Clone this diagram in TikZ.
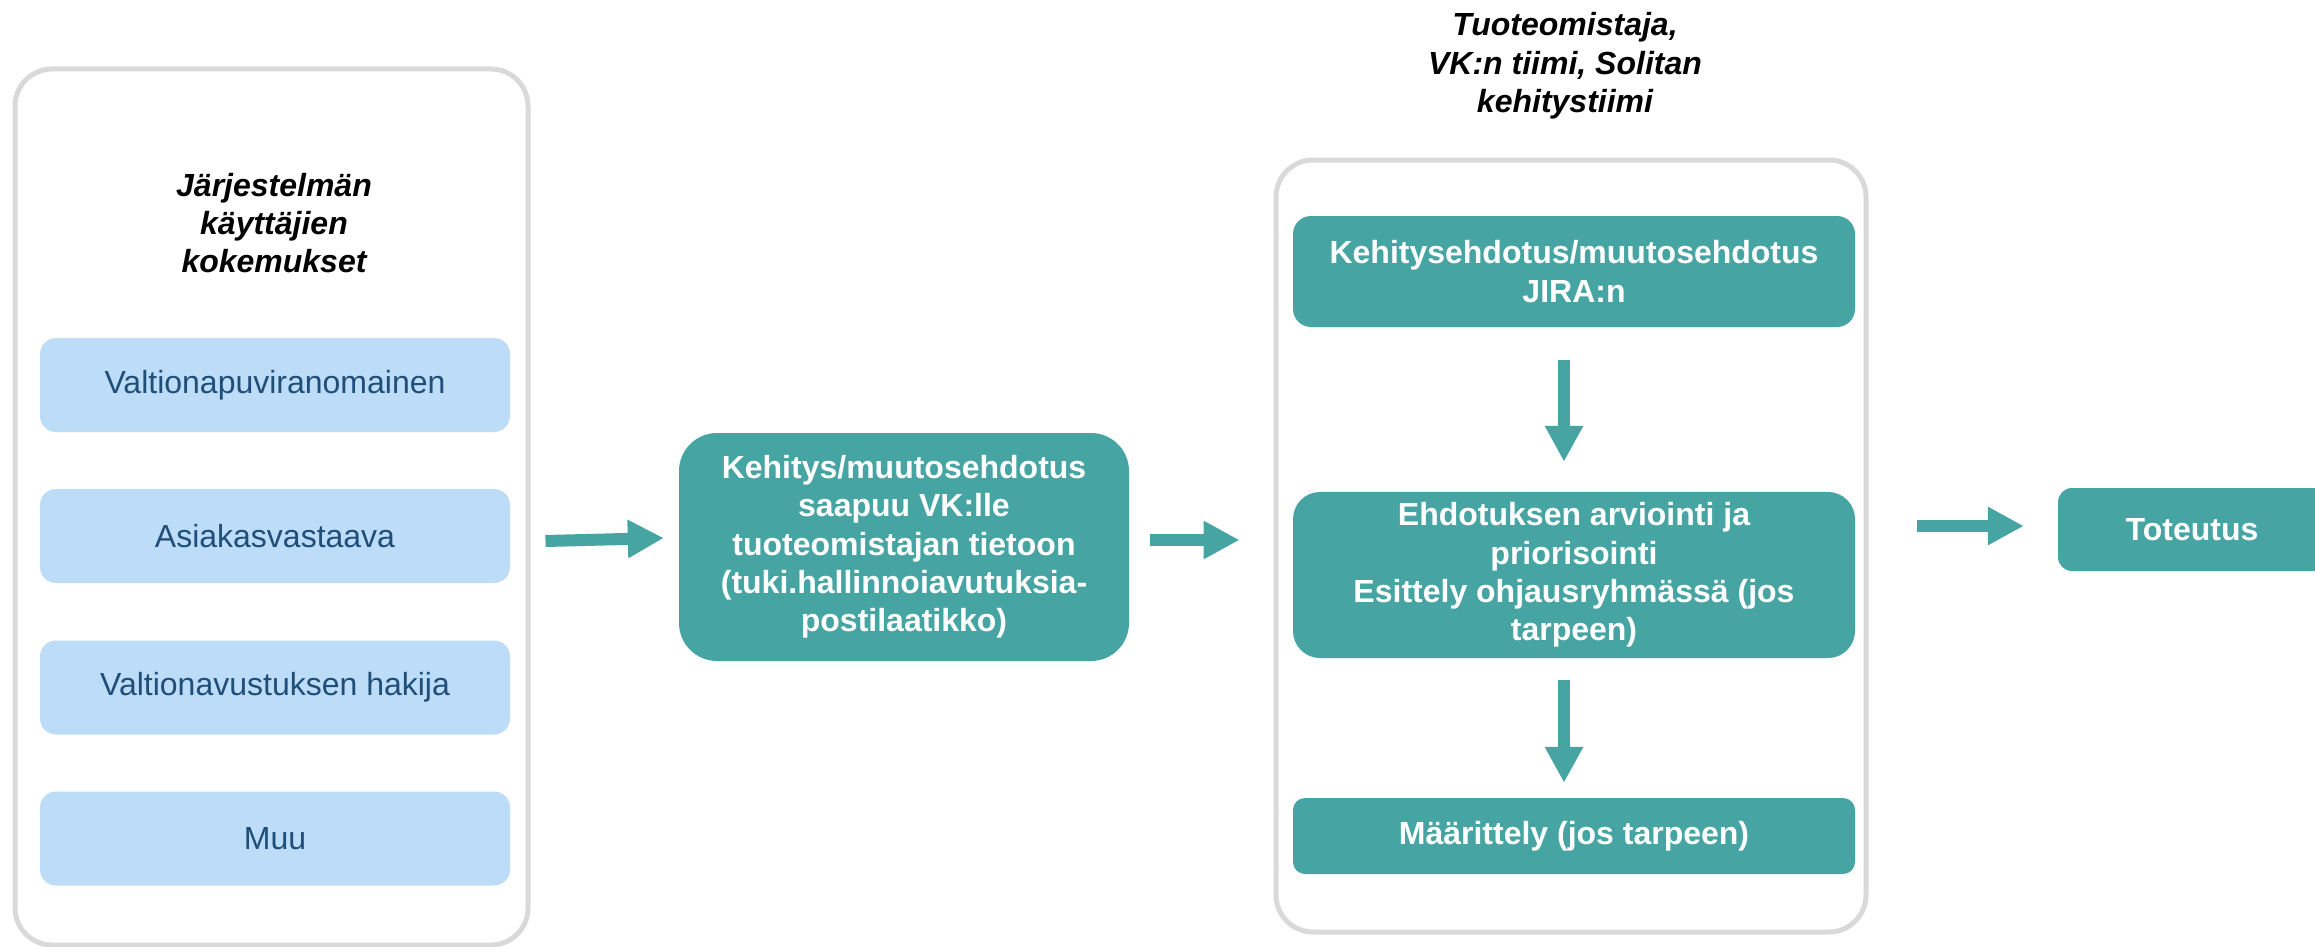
\documentclass[tikz,border=0pt]{standalone}
\usepackage{fontspec}
\setmainfont{Liberation Sans}
\usetikzlibrary{arrows.meta}

\definecolor{flowteal}{RGB}{70,164,163}
\definecolor{userblue}{RGB}{189,220,247}
\definecolor{userdark}{RGB}{31,78,121}
\definecolor{framegray}{RGB}{217,217,217}

\begin{document}
\fontsize{32}{38.3}\selectfont
\begin{tikzpicture}[x=1pt, y=-1pt,
    frame/.style={draw=framegray, line width=5pt, rounded corners=37pt},
    user/.style={fill=userblue, text=userdark, minimum width=470pt, minimum height=94pt, rounded corners=16pt},
    task/.style={fill=flowteal, text=white, font=\bfseries, align=center},
    title/.style={font=\bfseries\itshape, align=center, inner sep=0pt},
    flow/.style={draw=flowteal, line width=12pt, -{Triangle[length=36pt, width=36pt]}}]
  \useasboundingbox (0,0) rectangle (2315,947);

  \node[frame, minimum width=513pt, minimum height=876pt] (users) at (271.5,507) {};
  \node[title] (usershead) at (274,223) {Järjestelmän\\käyttäjien\\kokemukset};
  \node[user] (authority) at (275,385) {Valtionapuviranomainen};
  \node[user] (customer) at (275,536) {Asiakasvastaava};
  \node[user] (applicant) at (275,687.5) {Valtionavustuksen hakija};
  \node[user] (other) at (275,838.5) {Muu};

  \node[task, minimum width=450pt, minimum height=228pt, rounded corners=38pt] (arrival) at (904,547)
    {Kehitys/muutosehdotus\\saapuu VK:lle\\tuoteomistajan tietoon\\(tuki.hallinnoiavutuksia-\\postilaatikko)};

  \node[frame, minimum width=590pt, minimum height=772pt] (team) at (1571,546) {};
  \node[title] (teamhead) at (1565,66) {Tuoteomistaja,\\VK:n tiimi, Solitan\\kehitystiimi};
  \node[task, minimum width=562pt, minimum height=111pt, rounded corners=18pt] (jira) at (1574,271.5)
    {Kehitysehdotus/muutosehdotus\\JIRA:n};
  \node[task, minimum width=562pt, minimum height=164pt, rounded corners=27pt] (review) at (1574,575)
    {Ehdotuksen arviointi ja\\priorisointi\\Esittely ohjausryhmässä (jos\\tarpeen)};
  \node[task, minimum width=562pt, minimum height=76pt, rounded corners=12pt] (spec) at (1574,836)
    {Määrittely (jos tarpeen)};

  \node[task, minimum width=268pt, minimum height=83pt, rounded corners=14pt] (impl) at (2192,529.5) {Toteutus};

  \draw[flow] ([shift={(15,34)}]users.east) -- ([shift={(-15,-9)}]arrival.west);
  \draw[flow] ([shift={(21,-7)}]arrival.east) -- ([shift={(-34,-6)}]team.west);
  \draw[flow] ([shift={(-10,33)}]jira.south) -- ([shift={(-10,-30)}]review.north);
  \draw[flow] ([shift={(-10,22)}]review.south) -- ([shift={(-10,-15)}]spec.north);
  \draw[flow] ([shift={(48,-20)}]team.east) -- ([shift={(-34,-3.5)}]impl.west);
\end{tikzpicture}
\end{document}
